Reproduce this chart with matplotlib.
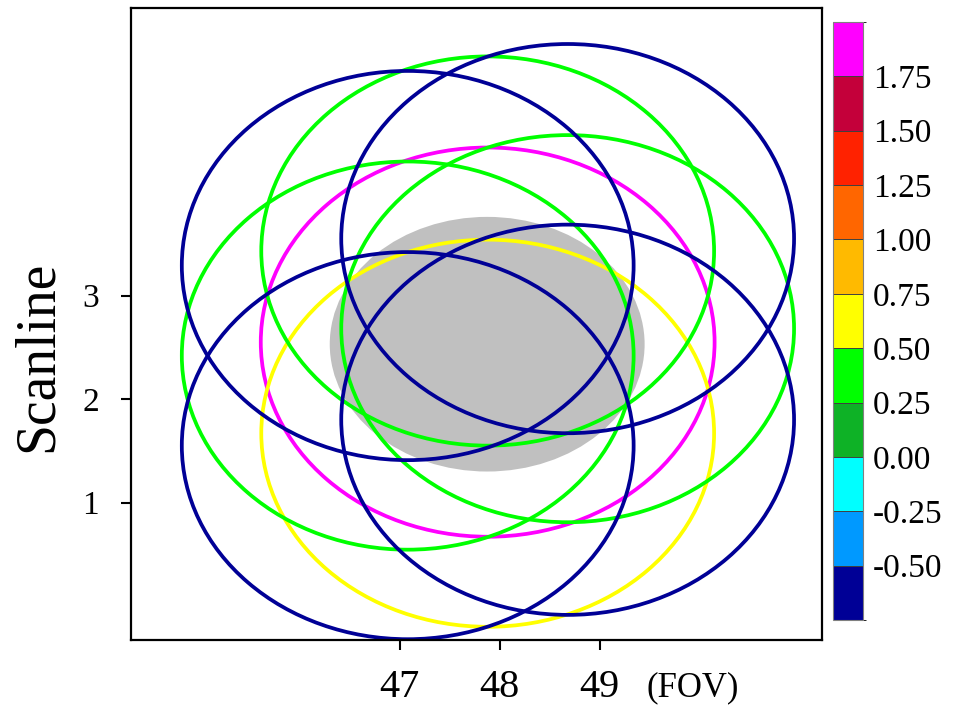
import numpy as np
import matplotlib
matplotlib.use("Agg")
from matplotlib import pyplot as plt
from matplotlib.patches import Ellipse
from matplotlib.colors import ListedColormap, BoundaryNorm
from matplotlib.cm import ScalarMappable

# colour scale (bin edges and colours, bottom to top)
levels = [-0.75, -0.5, -0.25, 0.0, 0.25, 0.5, 0.75, 1.0, 1.25, 1.5, 1.75, 2.0]
level_colors = ["#000096", "#0099FF", "#00FFFF", "#0EB226", "#00FF00", "#FFFF00",
                "#FFBA00", "#FF6600", "#FF2200", "#C4003A", "#FF00FF"]
cbar_ticks = [-0.5, -0.25, 0.0, 0.25, 0.5, 0.75, 1.0, 1.25, 1.5, 1.75]

# instrument footprints (FOV, scanline, width, height, value)
fp_x = [47.08, 48.68, 47.08, 48.68, 47.88, 47.08, 48.68, 47.88, 47.88]
fp_y = [3.29, 3.55, 1.55, 1.80, 3.43, 2.42, 2.68, 2.55, 1.67]
fp_w = [4.52, 4.53, 4.52, 4.53, 4.53, 4.52, 4.53, 4.54, 4.53]
fp_h = [3.76, 3.76, 3.74, 3.77, 3.76, 3.75, 3.74, 3.76, 3.74]
fp_val = [-0.6, -0.6, -0.6, -0.6, 0.4, 0.4, 0.4, 1.9, 0.6]

# target pixel (grey)
tgt_x, tgt_y, tgt_w, tgt_h = 47.875, 2.53, 3.15, 2.46

xticks = [47, 48, 49]
yticks = [1, 2, 3]

plt.rcParams['font.family'] = ['Liberation Serif', 'DejaVu Serif']

cmap = ListedColormap(level_colors)
norm = BoundaryNorm(levels, cmap.N)

fig = plt.figure(figsize=(9.62, 7.07), dpi=100)
ax = fig.add_axes([0.136, 0.095, 0.718, 0.894])

ax.add_patch(Ellipse((tgt_x, tgt_y), tgt_w, tgt_h, facecolor="#C0C0C0",
                     edgecolor="none", zorder=1))

# draw order: yellow/magenta/green first, navy on top
order = sorted(range(len(fp_x)), key=lambda i: -fp_val[i])
for i in order:
    ax.add_patch(Ellipse((fp_x[i], fp_y[i]), fp_w[i], fp_h[i], fill=False,
                         edgecolor=cmap(norm(fp_val[i])), linewidth=2.7, zorder=2))

ax.set_xlim(44.31, 51.22)
ax.set_ylim(-0.326, 5.78)
ax.set_xticks(xticks)
ax.set_yticks(yticks)
ax.tick_params(axis='x', direction='out', length=7, width=1.5, labelsize=29, pad=14)
ax.tick_params(axis='y', direction='out', length=7, width=1.5, labelsize=24, pad=16)
for sp in ax.spines.values():
    sp.set_linewidth(1.6)

ax.set_ylabel("Scanline", fontsize=40)
ax.yaxis.set_label_coords(-0.097, 0.449)
fig.text(0.72, 0.027, "(FOV)", fontsize=25, ha='center', va='center')

# colour bar
cax = fig.add_axes([0.866, 0.123, 0.031, 0.846])
sm = ScalarMappable(norm=norm, cmap=cmap)
cb = fig.colorbar(sm, cax=cax, ticks=cbar_ticks, drawedges=True, format="%.2f")
cb.outline.set_edgecolor("#808080")
cb.outline.set_linewidth(0.8)
cb.dividers.set_color("#404040")
cb.dividers.set_linewidth(0.7)
cax.tick_params(length=0, labelsize=24, pad=7)

fig.savefig("out.png", dpi=100)
